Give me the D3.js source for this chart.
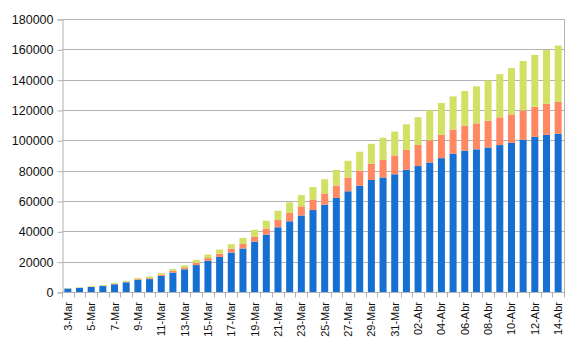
<!DOCTYPE html>
<html>
<head>
<meta charset="utf-8">
<script src="https://cdn.jsdelivr.net/npm/d3@7"></script>
<style>
html,body{margin:0;padding:0;background:#fff;}
svg{display:block;}
text{font-family:"Liberation Sans",Arial,sans-serif;}
</style>
</head>
<body>
<div id="chart"></div>
<script>
const categories = ["3-Mar","4-Mar","5-Mar","6-Mar","7-Mar","8-Mar","9-Mar","10-Mar","11-Mar","12-Mar","13-Mar","14-Mar","15-Mar","16-Mar","17-Mar","18-Mar","19-Mar","20-Mar","21-Mar","22-Mar","23-Mar","24-Mar","25-Mar","26-Mar","27-Mar","28-Mar","29-Mar","30-Mar","31-Mar","01-Abr","02-Abr","03-Abr","04-Abr","05-Abr","06-Abr","07-Abr","08-Abr","09-Abr","10-Abr","11-Abr","12-Abr","13-Abr","14-Abr"];
const active = [2263,2706,3296,3916,5061,6387,7985,8514,10590,12839,14955,17750,20603,23073,26062,28710,33190,37860,42681,46638,50418,54030,57521,62013,66414,70065,73880,75528,77635,80572,83049,85388,88274,91246,93187,94067,95262,96877,98273,100269,102253,103616,104291];
const deaths = [79,107,148,197,233,366,463,631,827,1016,1266,1441,1809,2158,2503,2978,3405,4032,4825,5476,6077,6820,7503,8165,9134,10023,10779,11591,12428,13155,13915,14681,15362,15887,16523,17127,17669,18279,18849,19468,19899,20465,21067];
const recovered = [160,276,414,523,589,622,724,1004,1045,1258,1439,1966,2335,2749,2941,4025,4440,5129,6072,7024,7432,8326,9362,10361,10950,12384,13030,14620,15729,16847,18278,19758,20996,21815,22837,24392,26491,28470,30455,32534,34211,35435,37130];
const yTicks = [0,20000,40000,60000,80000,100000,120000,140000,160000,180000];
const seriesKeys = ["active","deaths","recovered"];
const colors = ["#1670d2","#ff8762","#d2e064"];

const W = 579, H = 349;
const mLeft = 62, mRight = 564, mTop = 19, mBottom = 292;

const rows = categories.map((c,i)=>({cat:c, active:active[i], deaths:deaths[i], recovered:recovered[i]}));
const stacked = d3.stack().keys(seriesKeys)(rows);

const svg = d3.select("#chart").append("svg").attr("width",W).attr("height",H);

const x = d3.scaleBand().domain(categories).range([mLeft,mRight]).paddingInner(0.4).paddingOuter(0.2);
const y = d3.scaleLinear().domain([0,180000]).range([mBottom,mTop]);

// gridlines
svg.append("g").selectAll("line").data(yTicks.filter(d=>d>0)).join("line")
  .attr("x1",mLeft).attr("x2",mRight)
  .attr("y1",d=>Math.round(y(d))+0.5).attr("y2",d=>Math.round(y(d))+0.5)
  .attr("stroke","#b3b3b3").attr("stroke-width",1);

// right frame line
svg.append("line").attr("x1",mRight+0.5).attr("x2",mRight+0.5).attr("y1",mTop).attr("y2",mBottom+0.5)
  .attr("stroke","#b3b3b3");

// bars
svg.append("g").selectAll("g").data(stacked).join("g")
  .attr("fill",(d,i)=>colors[i])
  .selectAll("rect").data(d=>d).join("rect")
  .attr("x",d=>x(d.data.cat))
  .attr("width",x.bandwidth())
  .attr("y",d=>y(d[1]))
  .attr("height",d=>Math.max(0,y(d[0])-y(d[1])));

// y axis
const yAxis = d3.axisLeft(y).tickValues(yTicks).tickSize(5).tickPadding(4).tickFormat(d3.format("d"));
const gy = svg.append("g").attr("transform",`translate(${mLeft+0.5},0.5)`).call(yAxis);
gy.select(".domain").attr("stroke","#b3b3b3");
gy.selectAll(".tick line").attr("stroke","#b3b3b3");
gy.selectAll("text").attr("font-size","12.5px").attr("fill","#111").attr("font-family","'Liberation Sans',Arial,sans-serif");

// x axis line
svg.append("line").attr("x1",mLeft).attr("x2",mRight+1).attr("y1",mBottom+0.5).attr("y2",mBottom+0.5).attr("stroke","#b3b3b3");
// boundary ticks
const step = x.step();
svg.append("g").selectAll("line").data(d3.range(categories.length+1)).join("line")
  .attr("x1",i=>Math.round(mLeft+i*step)+0.5).attr("x2",i=>Math.round(mLeft+i*step)+0.5)
  .attr("y1",mBottom).attr("y2",mBottom+5.5)
  .attr("stroke","#b3b3b3");

// x labels
const xAxis = d3.axisBottom(x).tickSize(0).tickPadding(0).tickFormat((d,i)=> i%2===0 ? d : "");
const gx = svg.append("g").attr("transform",`translate(0,${mBottom})`).call(xAxis);
gx.select(".domain").remove();
gx.selectAll("text")
  .attr("font-size","11px").attr("fill","#111").attr("font-family","'Liberation Sans',Arial,sans-serif")
  .attr("text-anchor","end")
  .attr("dy",null)
  .attr("y",0)
  .attr("transform","translate(4,10) rotate(-90)");
</script>
</body>
</html>
